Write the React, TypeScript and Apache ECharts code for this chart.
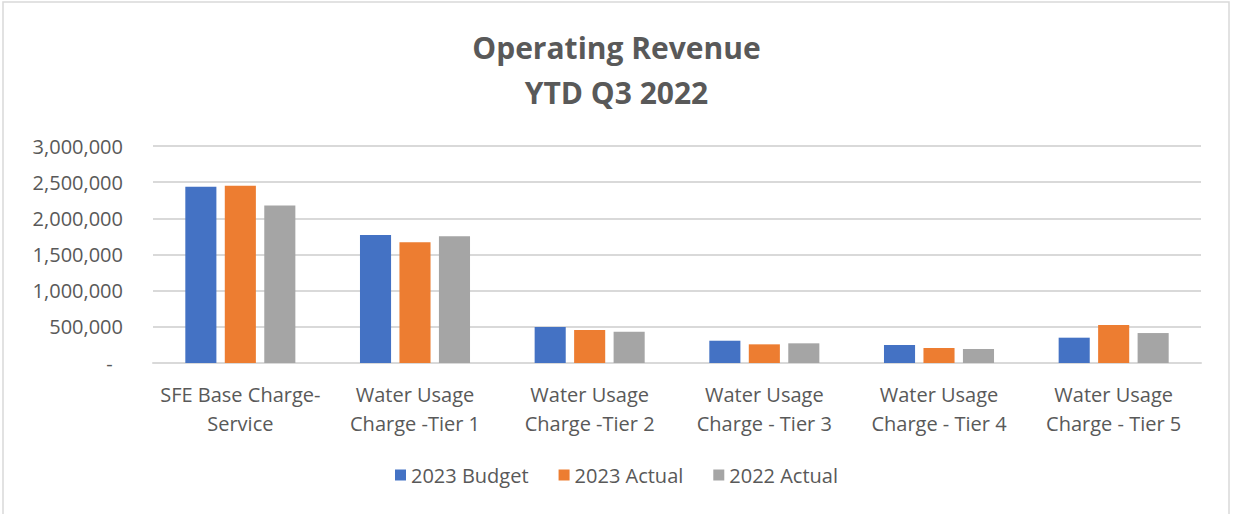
import React, { useEffect, useRef } from "react";
import * as echarts from "echarts";

const categories = [
  "SFE Base Charge-\nService",
  "Water Usage\nCharge -Tier 1",
  "Water Usage\nCharge -Tier 2",
  "Water Usage\nCharge - Tier 3",
  "Water Usage\nCharge - Tier 4",
  "Water Usage\nCharge - Tier 5",
];
const budget2023 = [2435000, 1768000, 498000, 308000, 249000, 350000];
const actual2023 = [2450000, 1671000, 456000, 258000, 207000, 525000];
const actual2022 = [2178000, 1754000, 432000, 272000, 193000, 414000];
const seriesNames = ["2023 Budget", "2023 Actual", "2022 Actual"];
const colors = ["#4472C4", "#ED7D31", "#A5A5A5"];
const titleLines = ["Operating Revenue", "YTD Q3 2022"];

const FONT = "Open Sans";

export default function App() {
  const ref = useRef<HTMLDivElement>(null);
  useEffect(() => {
    if (!ref.current) return;
    const chart = echarts.init(ref.current, undefined, { renderer: "svg" });
    const data = [budget2023, actual2023, actual2022];
    chart.setOption({
      animation: false,
      backgroundColor: "#ffffff",
      textStyle: { fontFamily: FONT },
      title: {
        text: titleLines.join("\n"),
        left: "center",
        top: 20,
        textStyle: {
          fontFamily: FONT,
          fontSize: 30,
          fontWeight: "bold",
          color: "#595959",
          lineHeight: 45,
        },
      },
      legend: {
        top: 460,
        left: "center",
        itemWidth: 11,
        itemHeight: 11,
        itemGap: 30,
        icon: "rect",
        textStyle: { fontFamily: FONT, fontSize: 20, color: "#595959" },
        data: seriesNames,
      },
      grid: { left: 153, right: 32, top: 146, bottom: 151 },
      xAxis: {
        type: "category",
        data: categories,
        axisLine: { lineStyle: { color: "#d9d9d9", width: 2 } },
        axisTick: { show: false },
        axisLabel: {
          interval: 0,
          margin: 17,
          fontFamily: FONT,
          fontSize: 20,
          lineHeight: 29,
          color: "#595959",
        },
      },
      yAxis: {
        type: "value",
        min: 0,
        max: 3000000,
        interval: 500000,
        axisLine: { show: false },
        axisTick: { show: false },
        splitLine: { lineStyle: { color: "#d9d9d9", width: 2 } },
        axisLabel: {
          margin: 30,
          fontFamily: FONT,
          fontSize: 20,
          color: "#595959",
          formatter: (v: number) =>
            v === 0 ? "-  " : v.toLocaleString("en-US"),
        },
      },
      series: seriesNames.map((name, i) => ({
        name,
        type: "bar",
        data: data[i],
        itemStyle: { color: colors[i] },
        barGap: "27%",
        barCategoryGap: "37%",
      })),
      graphic: [
        {
          type: "rect",
          shape: { x: 3, y: 2, width: 1226, height: 520 },
          style: { fill: "none", stroke: "#d9d9d9", lineWidth: 1.5 },
          silent: true,
        },
      ],
    });
    return () => chart.dispose();
  }, []);
  return (
    <div
      ref={ref}
      style={{ position: "fixed", left: 0, top: 0, width: 1233, height: 514 }}
    />
  );
}
